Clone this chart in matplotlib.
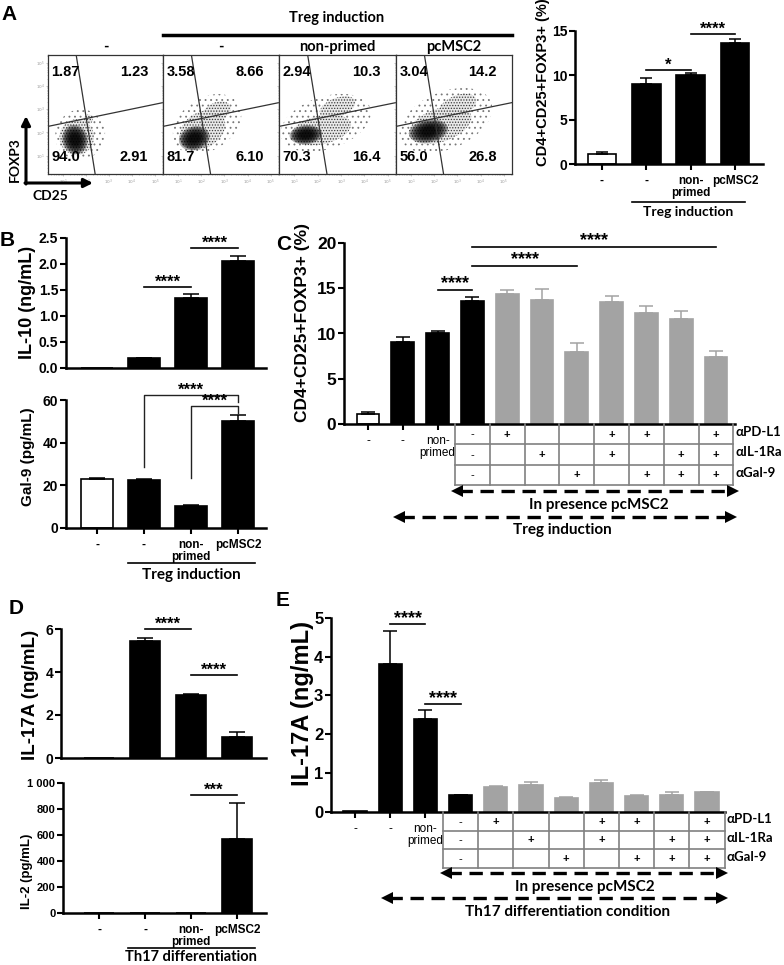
import numpy as np
import matplotlib
matplotlib.use('Agg')
import matplotlib.pyplot as plt
from matplotlib.patches import Ellipse
from matplotlib import font_manager as fm

# ---------------- data ----------------
flow_titles = ["-", "-", "non-primed", "pcMSC2"]
flow_ul = ["1.87", "3.58", "2.94", "3.04"]
flow_ur = ["1.23", "8.66", "10.3", "14.2"]
flow_ll = ["94.0", "81.7", "70.3", "56.0"]
flow_lr = ["2.91", "6.10", "16.4", "26.8"]

a_labels = ["-", "-", "non-\nprimed", "pcMSC2"]
a_vals = [1.1, 9.05, 10.0, 13.6]
a_errs = [0.2, 0.6, 0.3, 0.45]
a_fill = ["w", "k", "k", "k"]
a_sig = [(1, 2, 10.6, "*"), (2, 3, 14.7, "****")]

b_labels = ["-", "-", "non-\nprimed", "pcMSC2"]
il10_vals = [0.0, 0.19, 1.35, 2.06]
il10_errs = [0.0, 0.01, 0.08, 0.10]
il10_fill = ["w", "k", "k", "k"]
il10_sig = [(1, 2, 1.55, "****"), (2, 3, 2.3, "****")]
gal9_vals = [23.0, 22.4, 10.0, 50.0]
gal9_errs = [0.5, 0.3, 0.6, 2.8]
gal9_fill = ["w", "k", "k", "k"]

c_labels = ["-", "-", "non-\nprimed"]
c_vals = [1.1, 9.05, 10.0, 13.6, 14.35, 13.75, 8.0, 13.5, 12.3, 11.65, 7.4]
c_errs = [0.2, 0.6, 0.3, 0.45, 0.5, 1.2, 0.9, 0.65, 0.7, 0.8, 0.7]
c_fill = ["w", "k", "k", "k", "g", "g", "g", "g", "g", "g", "g"]
c_sig = [(2, 3, 14.85, "****"), (3, 6, 17.5, "****"), (3, 10, 19.6, "****")]

ab_rows = ["αPD-L1", "αIL-1Ra", "αGal-9"]
ab_pdl1 = ["-", "+", "", "", "+", "+", "", "+"]
ab_il1ra = ["-", "", "+", "", "+", "", "+", "+"]
ab_gal9 = ["-", "", "", "+", "", "+", "+", "+"]

d_labels = ["-", "-", "non-\nprimed", "pcMSC2"]
il17_vals = [0.0, 5.45, 2.93, 1.0]
il17_errs = [0.0, 0.12, 0.03, 0.2]
il17_fill = ["w", "k", "k", "k"]
il17_sig = [(1, 2, 6.0, "****"), (2, 3, 3.87, "****")]
il2_vals = [0.0, 0.0, 0.0, 570.0]
il2_errs = [0.0, 0.0, 0.0, 275.0]
il2_fill = ["w", "k", "k", "k"]
il2_sig = [(2, 3, 905, "***")]

e_labels = ["-", "-", "non-\nprimed"]
e_vals = [0.03, 3.8, 2.39, 0.42, 0.63, 0.70, 0.35, 0.74, 0.40, 0.44, 0.50]
e_errs = [0.0, 0.86, 0.22, 0.015, 0.02, 0.07, 0.02, 0.07, 0.04, 0.06, 0.02]
e_fill = ["w", "k", "k", "k", "g", "g", "g", "g", "g", "g", "g"]
e_sig = [(1, 2, 4.83, "****"), (2, 3, 2.77, "****")]

# ---------------- setup ----------------
names = {f.name for f in fm.fontManager.ttflist}
ARIAL = 'Liberation Sans'
NARROW = 'Liberation Sans Narrow' if 'Liberation Sans Narrow' in names else 'Liberation Sans'
CAL = ['Lato', 'Open Sans', 'DejaVu Sans']
plt.rcParams['hatch.linewidth'] = 0.6

W, H = 784, 965
fig = plt.figure(figsize=(W / 100, H / 100), dpi=100)


def axpx(x0, y0, x1, y1):
    return fig.add_axes([x0 / W, 1 - y1 / H, (x1 - x0) / W, (y1 - y0) / H])


FILL = {'w': 'white', 'k': 'black', 'g': '#a3a3a3'}
EDGE = {'w': 'black', 'k': 'black', 'g': '#a3a3a3'}


def bar_panel(ax, vals, errs, fills, width, xlim, ylim, yticks, ytl, tfs, tfam, capsize):
    x = np.arange(len(vals))
    ax.bar(x, vals, width=width, color=[FILL[f] for f in fills],
           edgecolor=[EDGE[f] for f in fills], linewidth=1.2, zorder=2)
    for xi, v, e, f in zip(x, vals, errs, fills):
        if e > 0:
            ax.errorbar([xi], [v], yerr=[[0], [e]], fmt='none', ecolor=EDGE[f],
                        elinewidth=1.1, capsize=capsize, capthick=1.1, zorder=3)
    ax.set_xlim(*xlim)
    ax.set_ylim(*ylim)
    for s in ['top', 'right']:
        ax.spines[s].set_visible(False)
    for s in ['left', 'bottom']:
        ax.spines[s].set_linewidth(1.8)
    ax.set_yticks(yticks)
    ax.set_yticklabels(ytl, fontsize=tfs, fontweight='bold', family=tfam)
    ax.tick_params(axis='y', direction='out', length=4, width=1.5, pad=1.5)
    ax.tick_params(axis='x', direction='out', length=4, width=1.5, pad=4)
    ax.patch.set_alpha(0)


def xlabels(ax, labels, fs, fam, bold=True):
    ax.set_xticks(range(len(labels)))
    ax.set_xticklabels(labels, fontsize=fs, family=fam,
                       fontweight='bold' if bold else 'normal', linespacing=1.0)


def sig(ax, x0, x1, y, txt, fs=12):
    ax.plot([x0, x1], [y, y], color='k', lw=1.2, clip_on=False, zorder=4)
    ax.annotate(txt, xy=((x0 + x1) / 2, y), xytext=(0, -2), textcoords='offset points',
                ha='center', va='bottom', fontsize=fs, fontweight='bold', family=ARIAL,
                annotation_clip=False)


def xl(axis_left, first_center, last_center, axis_right, n):
    sp = (last_center - first_center) / (n - 1)
    return (-(first_center - axis_left) / sp, n - 1 + (axis_right - last_center) / sp)


def table(ax_main, x0, x1, ytop, ybot, first, rows, names_, fs_cell, fs_name):
    tab = axpx(x0, ytop, x1, ybot)
    tab.set_xlim(ax_main.get_xlim())
    tab.set_ylim(3, 0)
    tab.axis('off')
    n = len(rows[0])
    left, right = first - 0.5, first + n - 0.5
    for k in range(n + 1):
        tab.plot([left + k] * 2, [0, 3], color='#808080', lw=1.2, clip_on=False)
    for r in range(1, 4):
        tab.plot([left, right], [r, r], color='#808080', lw=1.2, clip_on=False)
    for r, row in enumerate(rows):
        for j, s in enumerate(row):
            if s:
                tab.text(first + j, r + 0.52, s, ha='center', va='center',
                         fontsize=fs_cell, family=ARIAL, fontweight='bold' if s == '+' else 'normal')
        tab.text(right + 0.06, r + 0.4, names_[r], ha='left', va='center',
                 fontsize=fs_name, fontweight='bold', family=CAL)
    return tab


# ---------------- Panel A flow plots ----------------
flow_x = [48, 163, 279, 396, 512]
# cloud shapes (axes fraction): cx, cy, w, h, angle, kind
clouds = [
    [(0.28, 0.33, 0.44, 0.42, 35, 'halo'), (0.25, 0.31, 0.30, 0.30, 30, 'mid'),
     (0.235, 0.29, 0.22, 0.25, 20, 'core'), (0.35, 0.46, 0.08, 0.08, 0, 'mid')],
    [(0.38, 0.42, 0.64, 0.44, 32, 'halo'), (0.34, 0.37, 0.42, 0.30, 30, 'mid'),
     (0.27, 0.30, 0.27, 0.20, 15, 'core'), (0.46, 0.52, 0.26, 0.16, 25, 'mid')],
    [(0.40, 0.43, 0.80, 0.44, 18, 'halo'), (0.36, 0.37, 0.52, 0.24, 12, 'mid'),
     (0.23, 0.33, 0.28, 0.16, 5, 'core'), (0.50, 0.56, 0.32, 0.16, 20, 'mid')],
    [(0.43, 0.45, 0.84, 0.48, 22, 'halo'), (0.38, 0.41, 0.56, 0.28, 18, 'mid'),
     (0.28, 0.36, 0.34, 0.19, 10, 'core'), (0.53, 0.57, 0.34, 0.18, 22, 'mid')],
]
for i in range(4):
    ax = axpx(flow_x[i], 55, flow_x[i + 1], 174)
    ax.set_xscale('log')
    ax.set_yscale('log')
    ax.set_xlim(10 ** 0.35, 10 ** 5.35)
    ax.set_ylim(10 ** 0.2, 10 ** 5.35)
    for s in ax.spines.values():
        s.set_linewidth(0.9)
        s.set_color('#333333')
    ax.tick_params(which='both', direction='out', length=1.5, width=0.4,
                   labelsize=3, colors='#999999', pad=1)
    ax.tick_params(which='minor', length=1)
    if i > 0:
        ax.tick_params(axis='y', which='both', labelleft=False)
    for (cx, cy, w, h, ang, kind) in clouds[i]:
        if kind == 'halo':
            ax.add_patch(Ellipse((cx, cy), w, h, angle=ang, transform=ax.transAxes,
                                 facecolor='none', edgecolor='#777777', lw=0, hatch='...'))
        elif kind == 'mid':
            ax.add_patch(Ellipse((cx, cy), w, h, angle=ang, transform=ax.transAxes,
                                 facecolor='#e6e6e6', edgecolor='#222222', lw=0, hatch='......',
                                 alpha=0.85))
        else:
            for k in range(7):
                sc = 1.0 - 0.11 * k
                ax.add_patch(Ellipse((cx, cy), w * sc, h * sc, angle=ang,
                                     transform=ax.transAxes, facecolor='black',
                                     edgecolor='none', alpha=0.32))
    ax.plot([0.245, 0.41], [1, 0], color='#333333', lw=0.9, transform=ax.transAxes)
    ax.plot([0, 1], [0.40, 0.60], color='#333333', lw=0.9, transform=ax.transAxes)
    kw = dict(transform=ax.transAxes, fontsize=10.5, fontweight='bold', family=ARIAL, va='center')
    ax.text(0.03, 0.86, flow_ul[i], ha='left', **kw)
    ax.text(0.87, 0.86, flow_ur[i], ha='right', **kw)
    ax.text(0.03, 0.145, flow_ll[i], ha='left', **kw)
    ax.text(0.87, 0.145, flow_lr[i], ha='right', **kw)

# ---------------- Panel A bars ----------------
axA = axpx(575, 31, 763, 164)
bar_panel(axA, a_vals, a_errs, a_fill, 0.64, xl(575, 602, 735, 763, 4), (0, 15),
          [0, 5, 10, 15], ['0', '5', '10', '15'], 10, ARIAL, 4.5)
xlabels(axA, a_labels, 8.5, ARIAL)
for s in a_sig:
    sig(axA, *s, fs=12)

# ---------------- Panel B ----------------
axB1 = axpx(66, 238, 266, 368)
bar_panel(axB1, il10_vals, il10_errs, il10_fill, 0.66, xl(66, 97, 238, 266, 4), (0, 2.5),
          [0, 0.5, 1.0, 1.5, 2.0, 2.5], ['0.0', '0.5', '1.0', '1.5', '2.0', '2.5'], 10, ARIAL, 6)
axB1.set_xticks([])
for s in il10_sig:
    sig(axB1, *s, fs=12)

axB2 = axpx(66, 400, 266, 527.5)
bar_panel(axB2, gal9_vals, gal9_errs, gal9_fill, 0.66, xl(66, 97, 238, 266, 4), (0, 60),
          [0, 20, 40, 60], ['0', '20', '40', '60'], 10, ARIAL, 6)
xlabels(axB2, b_labels, 8.5, ARIAL)
axB2.plot([1, 1, 3, 3], [28.6, 62.4, 62.4, 59.0], color='#222222', lw=1.0, clip_on=False)
axB2.plot([2, 2, 3, 3], [23.1, 57.3, 57.3, 53.7], color='#222222', lw=1.0, clip_on=False)
for xm, ym in [(2, 62.4), (2.5, 57.3)]:
    axB2.annotate("****", xy=(xm, ym), xytext=(0, -2), textcoords='offset points',
                  ha='center', va='bottom', fontsize=12, fontweight='bold', family=ARIAL,
                  annotation_clip=False)

# ---------------- Panel C ----------------
axC = axpx(344, 243, 735, 424)
bar_panel(axC, c_vals, c_errs, c_fill, 0.66, xl(344, 368, 716, 735, 11), (0, 20),
          [0, 5, 10, 15, 20], ['0', '5', '10', '15', '20'], 12.5, NARROW, 5)
xlabels(axC, c_labels, 8.5, NARROW, bold=False)
for s in c_sig:
    sig(axC, *s, fs=13)
table(axC, 344, 735, 424, 485, 3, [ab_pdl1, ab_il1ra, ab_gal9], ab_rows, 8, 9.5)

# ---------------- Panel D ----------------
axD1 = axpx(61, 629, 266, 758)
bar_panel(axD1, il17_vals, il17_errs, il17_fill, 0.67, xl(61, 99, 237, 266, 4), (0, 6),
          [0, 2, 4, 6], ['0', '2', '4', '6'], 10, ARIAL, 6)
axD1.set_xticks([])
for s in il17_sig:
    sig(axD1, *s, fs=12)

axD2 = axpx(63, 783, 266, 913)
bar_panel(axD2, il2_vals, il2_errs, il2_fill, 0.67, xl(63, 99, 237, 266, 4), (0, 1000),
          [0, 200, 400, 600, 800, 1000], ['0', '200', '400', '600', '800', '1 000'], 8, ARIAL, 6)
xlabels(axD2, d_labels, 8.5, ARIAL)
for s in il2_sig:
    sig(axD2, *s, fs=12)

# ---------------- Panel E ----------------
axE = axpx(331, 617.7, 725, 811.7)
bar_panel(axE, e_vals, e_errs, e_fill, 0.66, xl(331, 355, 707, 725, 11), (0, 5),
          [0, 1, 2, 3, 4, 5], ['0', '1', '2', '3', '4', '5'], 12, NARROW, 5)
xlabels(axE, e_labels, 8.5, NARROW, bold=False)
for s in e_sig:
    sig(axE, *s, fs=13)
table(axE, 331, 725, 812, 868, 3, [ab_pdl1, ab_il1ra, ab_gal9], ab_rows, 8, 9.5)

# ---------------- overlay annotations ----------------
ov = fig.add_axes([0, 0, 1, 1])
ov.set_xlim(0, W)
ov.set_ylim(H, 0)
ov.axis('off')


def T(x, y, s, fs, fam=CAL, rot=0, **kw):
    ov.text(x, y, s, fontsize=fs, family=fam, fontweight='bold', rotation=rot,
            ha=kw.pop('ha', 'center'), va=kw.pop('va', 'center'), **kw)


def dashed_arrow(x0, x1, y):
    ov.plot([x0 + 6, x1 - 6], [y, y], color='k', lw=2.4, linestyle=(0, (4, 2.3)))
    ov.plot([x0 + 4], [y], marker='<', ms=8, color='k', mew=0)
    ov.plot([x1 - 4], [y], marker='>', ms=8, color='k', mew=0)


# panel letters
for lx, ly, lt in [(9, 14, 'A'), (7, 241, 'B'), (284, 244, 'C'), (16, 608, 'D'), (283, 600, 'E')]:
    T(lx, ly, lt, 15, fam=ARIAL)

# A flow decorations
T(337, 18, 'Treg induction', 10.5)
ov.plot([163, 512], [35, 35], color='k', lw=2.5)
for i, t in enumerate(flow_titles):
    T((flow_x[i] + flow_x[i + 1]) / 2, 47, t, 10.5)
ov.annotate('', xy=(26, 116), xytext=(26, 184), arrowprops=dict(arrowstyle='-|>', lw=2.2, color='k',
            mutation_scale=13, shrinkA=0, shrinkB=0))
ov.annotate('', xy=(93, 183), xytext=(25, 183), arrowprops=dict(arrowstyle='-|>', lw=2.2, color='k',
            mutation_scale=13, shrinkA=0, shrinkB=0))
T(15, 160, 'FOXP3', 10, rot=90)
T(50, 196, 'CD25', 10)

# A bars group
ov.plot([632, 745], [202, 202], color='k', lw=1.2)
T(688, 212, 'Treg induction', 10)
T(543, 82, 'CD4+CD25+FOXP3+ (%)', 10.5, fam=ARIAL, rot=90)

# B
T(28, 302, 'IL-10 (ng/mL)', 13, fam=ARIAL, rot=90)
T(28, 457, 'Gal-9 (pg/mL)', 11, fam=ARIAL, rot=90)
ov.plot([128, 255], [563, 563], color='k', lw=1.2)
T(191, 575, 'Treg induction', 11)

# C
T(303, 322, 'CD4+CD25+FOXP3+ (%)', 12.5, fam=ARIAL, rot=90)
dashed_arrow(453, 737, 491)
T(599, 505, 'In presence pcMSC2', 11)
dashed_arrow(395, 735, 517)
T(562, 530, 'Treg induction', 11)

# D
T(31, 695, 'IL-17A (ng/mL)', 13.5, fam=ARIAL, rot=90)
T(27, 871, 'IL-2 (pg/mL)', 9.5, fam=ARIAL, rot=90)
ov.plot([128, 255], [948, 948], color='k', lw=1.2)
T(191, 957, 'Th17 differentiation', 10.5)

# E
T(303, 703, 'IL-17A (ng/mL)', 17, fam=ARIAL, rot=90)
dashed_arrow(442, 726, 873)
T(585, 887, 'In presence pcMSC2', 11)
dashed_arrow(383, 726, 898)
T(568, 912, 'Th17 differentiation condition', 11)

fig.savefig('out.png', dpi=100)
